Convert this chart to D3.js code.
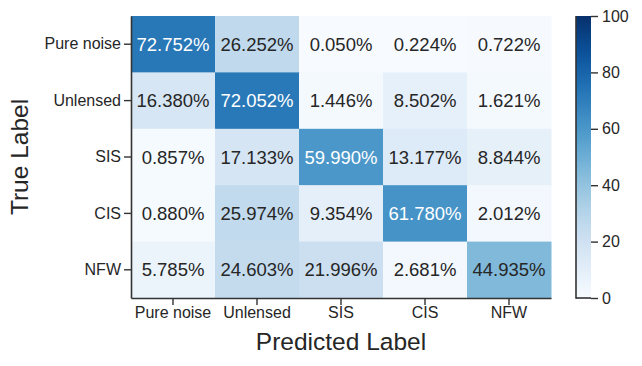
<!DOCTYPE html>
<html>
<head>
<meta charset="utf-8">
<script src="https://cdn.jsdelivr.net/npm/d3@7"></script>
<style>
  body { margin: 0; background: #fff; }
  text { font-family: "Liberation Sans", Arial, sans-serif; fill: #262626; }
</style>
</head>
<body>
<div id="chart"></div>
<script>
'use strict';

var labels = ["Pure noise", "Unlensed", "SIS", "CIS", "NFW"];
var values = [
    [72.752, 26.252, 0.050, 0.224, 0.722],
    [16.380, 72.052, 1.446, 8.502, 1.621],
    [0.857, 17.133, 59.990, 13.177, 8.844],
    [0.880, 25.974, 9.354, 61.780, 2.012],
    [5.785, 24.603, 21.996, 2.681, 44.935]
];
var cbarTicks = [0, 20, 40, 60, 80, 100];

var W = 642, H = 366,
    LEFT = 131, RIGHT = 551, TOP = 16, BOTTOM = 298,
    CB_X = 576, CB_W = 15,
    TICK_FONT = "16px", ANNOT_FONT = "18.5px", LABEL_FONT = "24.5px";

var svg = d3.select("#chart").append("svg")
    .attr("width", W)
    .attr("height", H);

var x = d3.scaleBand().domain(labels).range([LEFT, RIGHT]);
var y = d3.scaleBand().domain(labels).range([TOP, BOTTOM]);
var color = d3.scaleSequential(d3.interpolateBlues).domain([0, 100]);

var cells = [];
values.forEach(function (row, i) {
    row.forEach(function (v, j) {
        cells.push({ t: labels[i], p: labels[j], v: v });
    });
});

svg.append("g").selectAll("rect")
    .data(cells)
    .enter().append("rect")
    .attr("x", function (d) { return x(d.p); })
    .attr("y", function (d) { return y(d.t); })
    .attr("width", x.bandwidth() + 0.5)
    .attr("height", y.bandwidth() + 0.5)
    .attr("fill", function (d) { return color(d.v); });

svg.append("g").selectAll("text")
    .data(cells)
    .enter().append("text")
    .attr("x", function (d) { return x(d.p) + x.bandwidth() / 2; })
    .attr("y", function (d) { return y(d.t) + y.bandwidth() / 2; })
    .attr("dy", "0.36em")
    .attr("text-anchor", "middle")
    .style("font-size", ANNOT_FONT)
    .style("fill", function (d) { return d.v > 55 ? "#ffffff" : "#262626"; })
    .text(function (d) { return d.v.toFixed(3) + "%"; });

// axes
var xAxis = svg.append("g")
    .attr("transform", "translate(0," + BOTTOM + ")")
    .call(d3.axisBottom(x).tickSize(7).tickPadding(2).tickSizeOuter(0));
var yAxis = svg.append("g")
    .attr("transform", "translate(" + LEFT + ",0)")
    .call(d3.axisLeft(y).tickSize(7).tickPadding(3).tickSizeOuter(0));

[xAxis, yAxis].forEach(function (a) {
    a.select(".domain").attr("stroke", "#333").attr("stroke-width", 1.6);
    a.selectAll(".tick line").attr("stroke", "#333").attr("stroke-width", 1.4);
    a.selectAll(".tick text")
        .style("font-size", TICK_FONT)
        .style("font-family", "'Liberation Sans', Arial, sans-serif")
        .attr("fill", "#262626");
});

svg.append("text")
    .attr("x", (LEFT + RIGHT) / 2)
    .attr("y", 350)
    .attr("text-anchor", "middle")
    .style("font-size", LABEL_FONT)
    .text("Predicted Label");

svg.append("text")
    .attr("transform", "translate(28," + (TOP + BOTTOM) / 2 + ") rotate(-90)")
    .attr("text-anchor", "middle")
    .style("font-size", LABEL_FONT)
    .text("True Label");

// colorbar
var defs = svg.append("defs");
var grad = defs.append("linearGradient")
    .attr("id", "cbar")
    .attr("x1", 0).attr("y1", 1).attr("x2", 0).attr("y2", 0);
d3.range(0, 1.001, 0.05).forEach(function (t) {
    grad.append("stop")
        .attr("offset", t)
        .attr("stop-color", color(t * 100));
});

var cy = d3.scaleLinear().domain([0, 100]).range([BOTTOM, TOP]);

svg.append("rect")
    .attr("x", CB_X)
    .attr("y", TOP)
    .attr("width", CB_W)
    .attr("height", BOTTOM - TOP)
    .attr("fill", "url(#cbar)");

var cAxis = svg.append("g")
    .attr("transform", "translate(" + (CB_X + CB_W) + ",0)")
    .call(d3.axisRight(cy).tickValues(cbarTicks).tickSize(7).tickPadding(4).tickSizeOuter(0));
cAxis.select(".domain").remove();
cAxis.selectAll(".tick line").attr("stroke", "#333").attr("stroke-width", 1.4);
cAxis.selectAll(".tick text")
    .style("font-size", TICK_FONT)
    .style("font-family", "'Liberation Sans', Arial, sans-serif")
    .attr("fill", "#262626");

svg.append("line")
    .attr("x1", CB_X).attr("x2", CB_X)
    .attr("y1", TOP).attr("y2", BOTTOM + 0.8)
    .attr("stroke", "#333").attr("stroke-width", 1.6);
svg.append("line")
    .attr("x1", CB_X).attr("x2", CB_X + CB_W)
    .attr("y1", BOTTOM).attr("y2", BOTTOM)
    .attr("stroke", "#333").attr("stroke-width", 1.6);
</script>
</body>
</html>
